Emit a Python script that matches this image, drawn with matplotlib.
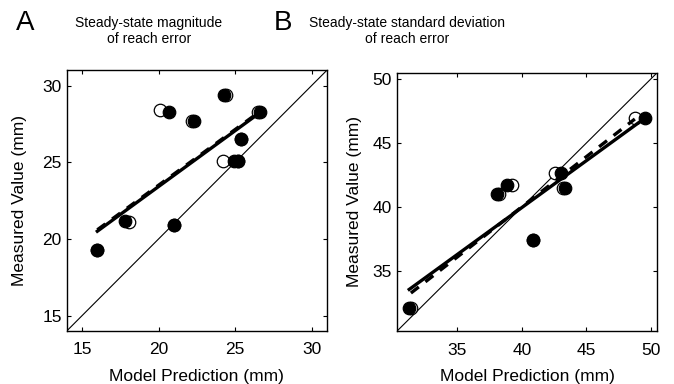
import matplotlib.pyplot as plt
import numpy as np

plt.rcParams['font.family'] = ['Liberation Sans', 'DejaVu Sans']

# Panel A: steady-state magnitude of reach error (mm)
a_pred_filled = [16.0, 17.8, 21.0, 20.7, 22.3, 24.3, 25.4, 24.9, 25.2, 26.6]
a_meas_filled = [19.3, 21.2, 20.9, 28.3, 27.7, 29.4, 26.5, 25.1, 25.1, 28.3]
a_pred_open = [16.0, 18.1, 21.0, 20.1, 22.2, 24.4, 25.4, 24.2, 25.2, 26.5]
a_meas_open = [19.3, 21.1, 20.9, 28.4, 27.7, 29.4, 26.5, 25.1, 25.1, 28.3]

# Panel B: steady-state standard deviation of reach error (mm)
b_pred_filled = [31.27, 38.11, 38.84, 40.9, 43.03, 43.37, 49.58]
b_meas_filled = [32.15, 41.03, 41.76, 37.42, 42.67, 41.5, 46.95]
b_pred_open = [31.4, 38.2, 39.27, 40.9, 42.6, 43.16, 48.76]
b_meas_open = [32.15, 41.03, 41.76, 37.42, 42.7, 41.5, 46.95]

a_lim = [14, 31]
a_ticks = [15, 20, 25, 30]
b_lim = [30.3, 50.5]
b_ticks = [35, 40, 45, 50]

fig = plt.figure(figsize=(6.74, 3.84), dpi=100)
ax_a = fig.add_axes([0.099, 0.138, 0.386, 0.679])
ax_b = fig.add_axes([0.5886, 0.137, 0.3866, 0.674])


def draw_panel(ax, xo, yo, xf, yf, lim, ticks, ylab_x):
    ax.plot(lim, lim, color='black', lw=0.8, zorder=1)
    ax.plot(xo, yo, 'o', mfc='white', mec='black', mew=0.9, ms=9, zorder=2)
    ax.plot(xf, yf, 'o', mfc='black', mec='black', mew=0.9, ms=9, zorder=3)
    # least-squares fits: solid for filled points, dashed for open points
    for px, py, ls in [(xf, yf, '-'), (xo, yo, '--')]:
        k, b = np.polyfit(px, py, 1)
        xs = np.array([min(px), max(px)])
        ax.plot(xs, k * xs + b, color='black', lw=2.4, ls=ls,
                dashes=(3, 2.5) if ls == '--' else (None, None), zorder=4)
    ax.set_xlim(lim)
    ax.set_ylim(lim)
    ax.set_xticks(ticks)
    ax.set_yticks(ticks)
    ax.tick_params(direction='in', top=True, right=True, length=3,
                   labelsize=12.5, width=0.8)
    ax.tick_params(axis='x', pad=8)
    ax.tick_params(axis='y', pad=3.5)
    for s in ax.spines.values():
        s.set_linewidth(1.0)
    ax.set_xlabel('Model Prediction (mm)', fontsize=12.5)
    ax.set_ylabel('Measured Value (mm)', fontsize=12.5)
    ax.xaxis.set_label_coords(0.5, -0.145)
    ax.yaxis.set_label_coords(ylab_x, 0.5)


draw_panel(ax_a, a_pred_open, a_meas_open, a_pred_filled, a_meas_filled,
           a_lim, a_ticks, -0.153)
draw_panel(ax_b, b_pred_open, b_meas_open, b_pred_filled, b_meas_filled,
           b_lim, b_ticks, -0.133)

fig.text(25 / 674, 1 - 23 / 384, 'A', fontsize=20, ha='center', va='center')
fig.text(283 / 674, 1 - 23 / 384, 'B', fontsize=20, ha='center', va='center')
fig.text(149 / 674, 1 - 31 / 384, 'Steady-state magnitude\nof reach error',
         fontsize=10, ha='center', va='center', linespacing=1.25)
fig.text(407 / 674, 1 - 31 / 384, 'Steady-state standard deviation\nof reach error',
         fontsize=10, ha='center', va='center', linespacing=1.25)

fig.savefig('out.png', dpi=100)
